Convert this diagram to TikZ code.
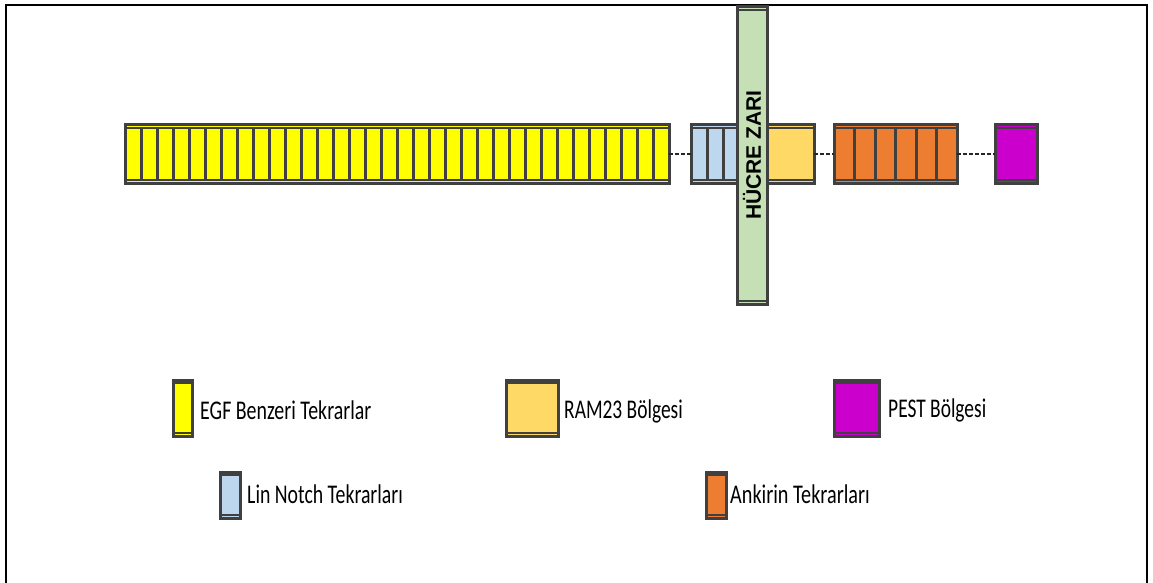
\documentclass[tikz,border=0pt]{standalone}
\usepackage{fontspec}
\usepackage{graphicx}
\setmainfont{Carlito}
\newfontfamily\membranefont{Liberation Sans}
\definecolor{dk}{HTML}{404040}
\definecolor{egfY}{HTML}{FFFF00}
\definecolor{notchB}{HTML}{BDD7EE}
\definecolor{ramY}{HTML}{FFD966}
\definecolor{ankO}{HTML}{ED7D31}
\definecolor{pestP}{HTML}{CC00CC}
\definecolor{memG}{HTML}{C5E0B4}
\newcommand\mybar[7]{%
  \node[barbox, fill=#7, minimum width={(#4-#2)*1pt}, minimum height={(#5-#3)*1pt}] (#1) at ({(#2+#4)/2},{(#3+#5)/2}) {};
  \pgfmathsetmacro\segw{(#4-#2)/#6}
  \foreach \i in {1,...,#6} {\draw[seg, fill=#7] ({#2+(\i-1)*\segw+0.6},{#3+2.8}) rectangle ({#2+\i*\segw-0.6},{#5-2.8});}
}
\begin{document}
\begin{tikzpicture}[x=1pt,y=-1pt,
  frame/.style={line width=2pt, draw=black},
  barbox/.style={draw=dk, line width=3pt, inner sep=0pt, outer sep=0pt, rectangle},
  seg/.style={draw=dk, line width=1.8pt},
  conn/.style={draw=black!85, line width=1.8pt, dash pattern=on 4pt off 2pt},
  legtext/.style={anchor=base west, inner sep=0pt, font=\fontsize{27}{27}\selectfont}
]
\useasboundingbox (0,0) rectangle (1153,583);
\draw[frame] (6,583) -- (6,5) -- (1147,5) -- (1147,583);

% protein bars
\mybar{egf}{125}{125}{669}{183}{34}{egfY}
\mybar{notch}{691}{125}{740}{183}{3}{notchB}
\mybar{ram}{765}{125}{814}{183}{1}{ramY}
\mybar{ank}{834}{125}{957}{183}{6}{ankO}
\mybar{pest}{995}{125}{1037}{183}{1}{pestP}

% membrane
\mybar{membrane}{737}{7}{767}{304}{1}{memG}
\node[rotate=90, inner sep=0pt, font=\membranefont\bfseries\fontsize{21}{21}\selectfont] (memtext) at (752,155) {HÜCRE ZARI};

% connectors
\draw[conn] (egf.east) -- (notch.west);
\draw[conn] (ram.east) -- (ank.west);
\draw[conn] (ank.east) -- (pest.west);

% legend
\mybar{legegf}{173}{380}{192}{436}{1}{egfY}
\mybar{legram}{506}{380}{558}{436}{1}{ramY}
\mybar{legpest}{834}{380}{879}{436}{1}{pestP}
\mybar{legnotch}{220}{472}{240}{518}{1}{notchB}
\mybar{legank}{706}{472}{726}{518}{1}{ankO}

\node[legtext] (tegf) at (200,419) {\scalebox{0.737}[1]{EGF Benzeri Tekrarlar}};
\node[legtext] (tram) at (564,418) {\scalebox{0.72}[1]{RAM23 Bölgesi}};
\node[legtext] (tpest) at (888,417) {\scalebox{0.72}[1]{PEST Bölgesi}};
\node[legtext] (tnotch) at (247,503) {\scalebox{0.733}[1]{Lin Notch Tekrarları}};
\node[legtext] (tank) at (730,503) {\scalebox{0.748}[1]{Ankirin Tekrarları}};
\end{tikzpicture}
\end{document}
